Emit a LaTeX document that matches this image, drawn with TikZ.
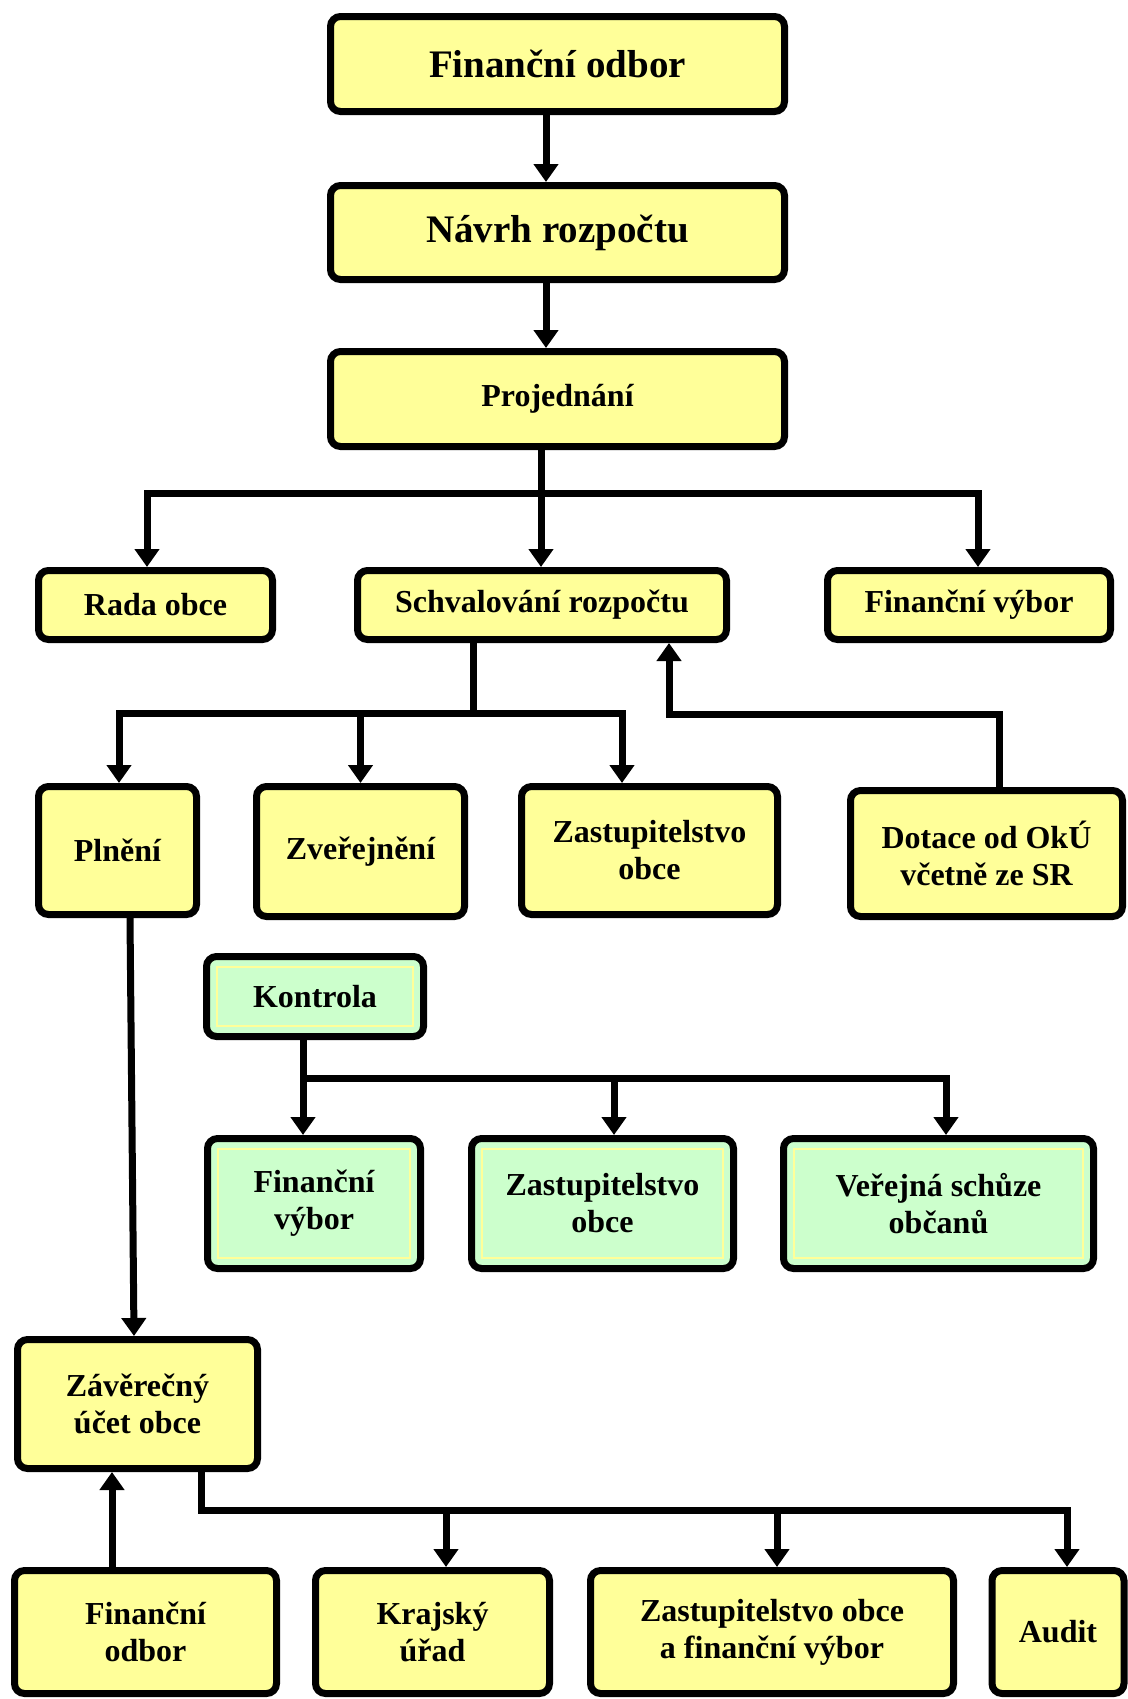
\documentclass[tikz,border=0pt]{standalone}
\usepackage{fontspec}
\setmainfont{Liberation Serif}
\usetikzlibrary{arrows.meta,calc}
\definecolor{boxyellow}{HTML}{FFFF99}
\definecolor{boxgreen}{HTML}{CCFFCC}
\tikzstyle{chart}=[
  x=0.5pt,y=-0.5pt,line width=3.5pt,>={Triangle[width=12pt,length=9pt]}
]
\tikzstyle{ybox}=[
  draw,rounded corners=5pt,fill=boxyellow,inner sep=0pt,align=center,
  font=\fontsize{16}{18.5}\selectfont\bfseries
]
\tikzstyle{gbox}=[
  ybox,fill=boxgreen,
  path picture={\draw[boxyellow,line width=0.8pt,sharp corners]
    ([shift={(5.25pt,-5.25pt)}]path picture bounding box.north west) rectangle
    ([shift={(-5.25pt,5.25pt)}]path picture bounding box.south east);}
]
\tikzstyle{bigtext}=[
  font=\fontsize{19.5}{22}\selectfont\bfseries
]
\tikzstyle{link}=[->]

\begin{document}
\begin{tikzpicture}[chart]
    \useasboundingbox (0,0) rectangle (1128,1699);
    \node (fo) at (557.5,64) [ybox,bigtext,minimum width=227pt,minimum height=47.5pt] {Finanční odbor};
    \node (nr) at (557.5,232.5) [ybox,bigtext,minimum width=227pt,minimum height=47pt] {Návrh rozpočtu};
    \node (pr) at (557.5,399) [ybox,minimum width=227pt,minimum height=47.5pt] {Projednání};
    \node (rada) at (155.5,605) [ybox,minimum width=117pt,minimum height=34.5pt] {Rada obce};
    \node (schv) at (542,605) [ybox,minimum width=184.5pt,minimum height=34.5pt] {Schvalování rozpočtu};
    \node (fv) at (969,605) [ybox,minimum width=141.5pt,minimum height=34.5pt] {Finanční výbor};
    \node (pl) at (117.5,850.5) [ybox,minimum width=79pt,minimum height=64pt] {Plnění};
    \node (zv) at (360.5,851.5) [ybox,minimum width=104pt,minimum height=65pt] {Zveřejnění};
    \node (zo) at (649.5,850.5) [ybox,minimum width=128pt,minimum height=64pt] {Zastupitelstvo\\obce};
    \node (dot) at (986.5,853.5) [ybox,minimum width=136pt,minimum height=63pt] {Dotace od OkÚ\\včetně ze SR};
    \node (kon) at (315,996.5) [gbox,minimum width=108.5pt,minimum height=40pt] {Kontrola};
    \node (gfv) at (314,1203.5) [gbox,minimum width=106.5pt,minimum height=65pt] {Finanční\\výbor};
    \node (gzo) at (602.5,1203.5) [gbox,minimum width=131pt,minimum height=65pt] {Zastupitelstvo\\obce};
    \node (gvs) at (938.5,1203.5) [gbox,minimum width=155pt,minimum height=65pt] {Veřejná schůze\\občanů};
    \node (zuo) at (137.5,1404) [ybox,minimum width=120pt,minimum height=64.5pt] {Závěrečný\\účet obce};
    \node (bfo) at (145.5,1632) [ybox,minimum width=131pt,minimum height=61.5pt] {Finanční\\odbor};
    \node (kr) at (432.5,1632) [ybox,minimum width=117pt,minimum height=61.5pt] {Krajský\\úřad};
    \node (zofv) at (772,1632) [ybox,minimum width=181.5pt,minimum height=61.5pt] {Zastupitelstvo obce\\a finanční výbor};
    \node (aud) at (1058,1632) [ybox,minimum width=66pt,minimum height=61.5pt] {Audit};

    \coordinate (j1) at (541,493);
    \coordinate (j2) at (473,713);
    \coordinate (j3) at (669,714);
    \coordinate (j4) at (303,1078);
    \coordinate (j5) at (1067,1510);

    \draw [link] ([xshift=-5.75pt]fo.south) -- ([xshift=-5.75pt]nr.north);
    \draw [link] ([xshift=-5.75pt]nr.south) -- ([xshift=-5.75pt]pr.north);
    \draw ([xshift=-8.25pt]pr.south) -- (j1);
    \draw [link] (j1) -| ([xshift=-4.25pt]rada.north);
    \draw [link] (j1) -| ([xshift=4.5pt]fv.north);
    \draw [link] (j1) -- (schv.north -| j1);

    \draw (schv.south -| j2) -- (j2);
    \draw [link] (j2) -| ([xshift=0.75pt]pl.north);
    \draw [link] (j2) -| ([xshift=-13.75pt]zo.north);
    \draw [link] (zv.north |- j2) -- (zv.north);
    \draw [link] ([xshift=6.25pt]dot.north) |- (j3) -- (schv.south -| j3);

    \draw [link] ([xshift=6.25pt]pl.south) -- ([xshift=-1.75pt]zuo.north);

    \draw [link] (kon.south -| j4) -- (gfv.north -| j4);
    \draw [link] (j4) -| ([xshift=3.75pt]gvs.north);
    \draw [link] ([xshift=5.75pt]gzo.north |- j4) -- ([xshift=5.75pt]gzo.north);

    \draw [link] ([xshift=31.75pt]zuo.south) |- (j5) -- (aud.north -| j5);
    \draw [link] ([xshift=6.75pt]kr.north |- j5) -- ([xshift=6.75pt]kr.north);
    \draw [link] ([xshift=2.5pt]zofv.north |- j5) -- ([xshift=2.5pt]zofv.north);
    \draw [link] ([xshift=-16.75pt]bfo.north) -- ([xshift=-16.75pt]bfo.north |- zuo.south);
\end{tikzpicture}
\end{document}
